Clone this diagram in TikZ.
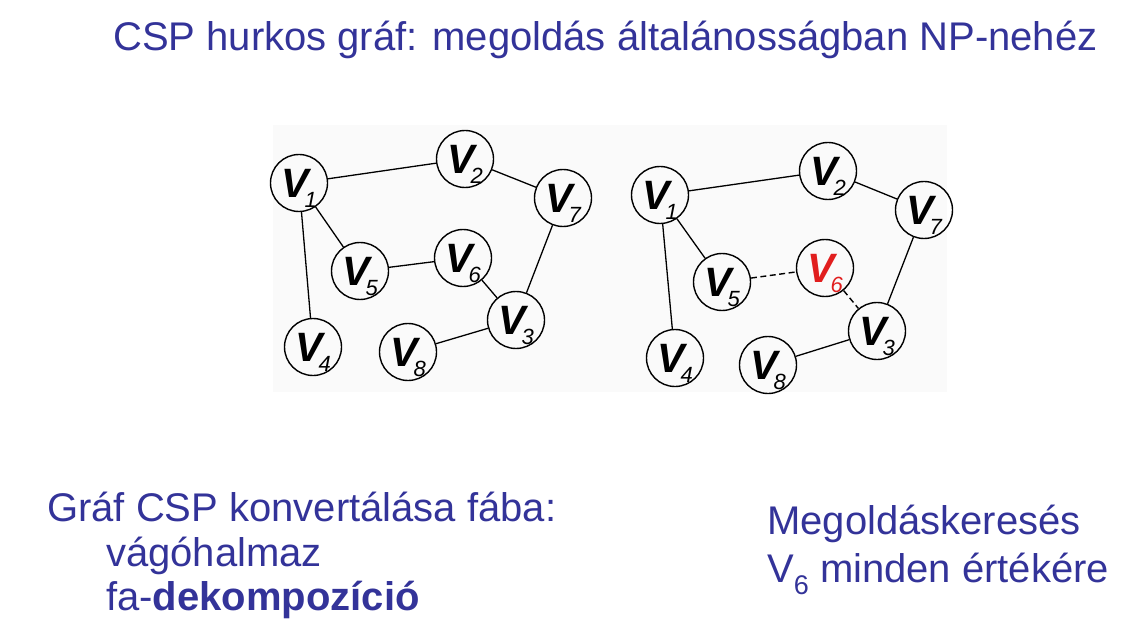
\documentclass[tikz,border=0pt]{standalone}
\usepackage{fontspec}
\setmainfont{Liberation Sans}
\definecolor{slideblue}{RGB}{51,51,153}
\definecolor{cutred}{RGB}{225,30,30}
\newcommand{\vname}[1]{{\fontsize{41}{41}\selectfont\bfseries\itshape V}\kern-4pt\raisebox{-10pt}[0pt][0pt]{\fontsize{22}{22}\selectfont\itshape #1}}
\tikzset{
  var/.style={draw,circle,line width=1.4pt,minimum size=57pt,inner sep=0pt},
  edge/.style={line width=1.3pt},
  cut/.style={line width=1.4pt,dash pattern=on 6pt off 3.5pt},
  slidetext/.style={text=slideblue,inner sep=0pt,font=\fontsize{40}{45}\selectfont}
}
\begin{document}
\begin{tikzpicture}[x=1pt,y=-1pt]
    \useasboundingbox (0,0) rectangle (1138,631);
    \fill[black!2] (273,125) rectangle (947,392);

    % title
    \node[slidetext,anchor=base west] (title) at (113,51) {CSP hurkos gráf: megoldás általánosságban NP-nehéz};

    % left graph
    \node[var] (a1) at (299,183) {\vname{1}};
    \node[var] (a2) at (465,159) {\vname{2}};
    \node[var] (a7) at (563,198) {\vname{7}};
    \node[var] (a5) at (360,271) {\vname{5}};
    \node[var] (a6) at (463,258) {\vname{6}};
    \node[var] (a3) at (516,320) {\vname{3}};
    \node[var] (a4) at (313,347) {\vname{4}};
    \node[var] (a8) at (408,352) {\vname{8}};

    \draw[edge] (a1) -- (a2) -- (a7) -- (a3);
    \draw[edge] (a1) -- (a5);
    \draw[edge] (a1) -- (a4);
    \draw[edge] (a5) -- (a6) -- (a3);
    \draw[edge] (a3) -- (a8);

    % right graph, V6 cut out
    \node[var] (b1) at (660,195) {\vname{1}};
    \node[var] (b2) at (828,171) {\vname{2}};
    \node[var] (b7) at (924,210) {\vname{7}};
    \node[var] (b5) at (722,282) {\vname{5}};
    \node[var,text=cutred] (b6) at (825,268) {\vname{6}};
    \node[var] (b3) at (877,331) {\vname{3}};
    \node[var] (b4) at (675,358) {\vname{4}};
    \node[var] (b8) at (768,365) {\vname{8}};

    \draw[edge] (b1) -- (b2) -- (b7) -- (b3);
    \draw[edge] (b1) -- (b5);
    \draw[edge] (b1) -- (b4);
    \draw[cut] (b5) -- (b6) -- (b3);
    \draw[edge] (b3) -- (b8);

    % texts below
    \node[slidetext,anchor=base west] (conv) at (47,521) {Gráf CSP konvertálása fába:};
    \node[slidetext,anchor=base west] (cutset) at (106,566) {vágóhalmaz};
    \node[slidetext,anchor=base west] (decomp) at (106,610) {fa-\textbf{dekompozíció}};
    \node[slidetext,anchor=base west] (search) at (767,534) {Megoldáskeresés};
    \node[slidetext,anchor=base west] (each) at (767,582) {V\raisebox{-12pt}{\fontsize{27}{27}\selectfont 6} minden értékére};
\end{tikzpicture}
\end{document}
